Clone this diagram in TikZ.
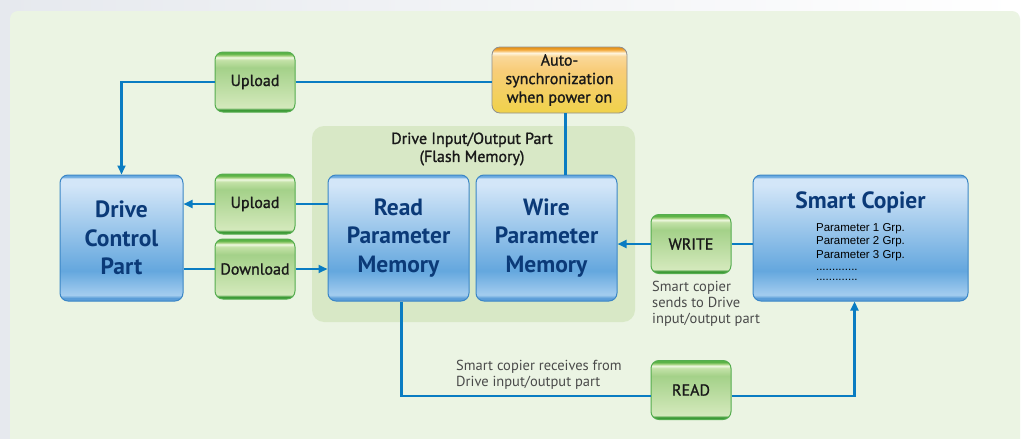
\documentclass[tikz,border=0pt]{standalone}
\usepackage{fontspec}
\setmainfont{PT Sans}
\newfontfamily\arialfont{Liberation Sans}
\newfontfamily\medfont{PT Sans}[FakeBold=1.2]
\usepackage{xcolor}
\usetikzlibrary{shapes,arrows.meta,positioning,calc}

\definecolor{bgleft}{HTML}{E6E9EE}
\definecolor{panelgreen}{HTML}{EBF4E3}
\definecolor{grpgreen}{HTML}{D8E8C6}
\definecolor{linkblue}{HTML}{0A7CC2}
\definecolor{memedge}{HTML}{3B86C6}
\definecolor{memtext}{HTML}{0B3A78}
\definecolor{tagedge}{HTML}{55AD4F}
\definecolor{syncedge}{HTML}{8F8F8F}
\definecolor{notegray}{HTML}{4A4A4A}
% blue box shading
\definecolor{bA}{HTML}{5B9DD8}
\definecolor{bB}{HTML}{A4CDEF}
\definecolor{bC}{HTML}{64A7DE}
\definecolor{bD}{HTML}{D3E6F8}
\definecolor{bE}{HTML}{6AAAE0}
% green tag shading
\definecolor{gA}{HTML}{3D9A37}
\definecolor{gB}{HTML}{D4E9BC}
\definecolor{gC}{HTML}{A4D189}
\definecolor{gD}{HTML}{C4E2A8}
\definecolor{gE}{HTML}{F2F9E4}
\definecolor{gF}{HTML}{A6D37F}
\definecolor{gG}{HTML}{5BB346}
% orange shading
\definecolor{oA}{HTML}{F0D24A}
\definecolor{oB}{HTML}{F8CD7A}
\definecolor{oC}{HTML}{FAD899}
\definecolor{oD}{HTML}{FFF5DF}
\definecolor{oE}{HTML}{F6B654}
\definecolor{oF}{HTML}{E8961E}

\pgfdeclareverticalshading{blueshade}{100bp}{color(0bp)=(bA); color(26.2bp)=(bA);
  color(27.4bp)=(bB); color(37bp)=(bC); color(71bp)=(bD); color(73.6bp)=(bD);
  color(74.3bp)=(bE); color(100bp)=(bE)}
\pgfdeclareverticalshading{greenshade}{100bp}{color(0bp)=(gA); color(27bp)=(gA);
  color(28.6bp)=(gB); color(62bp)=(gC); color(68.5bp)=(gD); color(70.5bp)=(gE);
  color(72bp)=(gF); color(73.6bp)=(gG); color(100bp)=(gG)}
\pgfdeclareverticalshading{orangeshade}{100bp}{color(0bp)=(oA); color(25bp)=(oA);
  color(58bp)=(oB); color(68bp)=(oC); color(70.5bp)=(oD); color(72.5bp)=(oE);
  color(74bp)=(oF); color(100bp)=(oF)}

\begin{document}
\begin{tikzpicture}[x=1pt,y=-1pt,
    memorybox/.style={draw=memedge, line width=1pt, rounded corners=8pt, shading=blueshade,
        minimum width=141pt, minimum height=126pt, align=center, text=memtext,
        font=\fontsize{23.5}{28.5}\selectfont\bfseries},
    tagbox/.style={draw=tagedge, line width=1pt, rounded corners=8pt, shading=greenshade,
        minimum width=80pt, minimum height=60pt, text=black!90,
        font=\fontsize{16}{19}\selectfont\medfont},
    syncbox/.style={draw=syncedge, line width=0.8pt, rounded corners=8pt, shading=orangeshade,
        minimum width=135pt, minimum height=66pt, align=center, text=black!90,
        font=\fontsize{16}{18.5}\selectfont\medfont},
    linkline/.style={draw=linkblue, line width=2.2pt},
    arrowed/.style={-{Triangle[length=9pt,width=8pt]}},
    notetext/.style={text=notegray, align=left, inner sep=0pt,
        font=\fontsize{14.5}{16.2}\selectfont}]

    % background and panels
    \clip (0,0) rectangle (1021,439);
    \shade[left color=bgleft, right color=white] (0,0) rectangle (1021,439);
    \fill[panelgreen, rounded corners=8pt] (10,460) rectangle (1020,11);
    \node[fill=grpgreen, rounded corners=12pt, minimum width=323pt, minimum height=196pt] (grp) at (473.5,224) {};
    \node[align=center, font=\fontsize{16}{18}\selectfont\medfont, text=black!90] (grptitle) at (472,149) {Drive Input/Output Part\\(Flash Memory)};

    % boxes
    \node[memorybox, minimum width=123pt] (drive) at (121.5,238) {Drive\\Control\\Part};
    \node[memorybox] (read) at (398.5,238) {Read\\Parameter\\Memory};
    \node[memorybox] (wire) at (546.5,238) {Wire\\Parameter\\Memory};
    \node[memorybox, minimum width=215pt] (copier) at (860.5,238) {Smart Copier\\[8pt]
        {\normalfont\arialfont\fontsize{11.5}{13.5}\selectfont\color{black}%
        \begin{tabular}{@{}l@{}}Parameter 1 Grp.\\Parameter 2 Grp.\\Parameter 3 Grp.\\[-1pt]
        .............\\[-3.5pt].............\end{tabular}}};

    \node[syncbox] (sync) at (559.5,80) {Auto-\\synchronization\\when power on};
    \node[tagbox] (upA) at (255,82) {Upload};
    \node[tagbox] (upB) at (255,204) {Upload};
    \node[tagbox] (down) at (255,269) {Download};
    \node[tagbox, minimum height=59pt] (write) at (691,244) {WRITE};
    \node[tagbox, minimum height=59pt] (readtag) at (691,390) {READ};

    % connectors
    \draw[linkline] (upA.east) -- (upA.east -| sync.west);
    \draw[linkline, arrowed] (upA.west) -| (drive.north);
    \draw[linkline] ([xshift=6pt]sync.south) -- ([xshift=6pt]sync.south |- wire.north);
    \draw[linkline, arrowed] (upB.west) -- (upB.west -| drive.east);
    \draw[linkline] (upB.east) -- (upB.east -| read.west);
    \draw[linkline] (down.west -| drive.east) -- (down.west);
    \draw[linkline, arrowed] (down.east) -- (down.east -| read.west);
    \draw[linkline] (copier.west |- write.east) -- (write.east);
    \draw[linkline, arrowed] (write.west) -- (write.west -| wire.east);
    \draw[linkline] ([xshift=3pt]read.south) |- ([yshift=-6pt]readtag.west);
    \draw[linkline, arrowed] ([yshift=-6pt]readtag.east) -| ([xshift=-6pt]copier.south);

    % notes
    \node[notetext, anchor=north west] (sendnote) at (652,281) {Smart copier\\sends to Drive\\input/output part};
    \node[notetext, anchor=north west] (recvnote) at (456,360) {Smart copier receives from\\Drive input/output part};
\end{tikzpicture}
\end{document}
